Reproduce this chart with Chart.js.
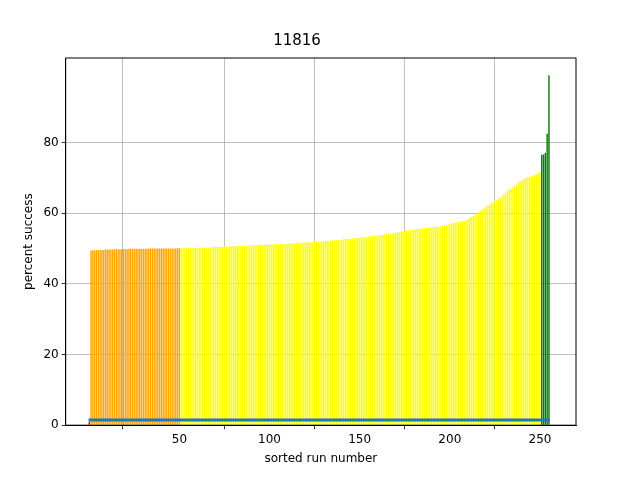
<!DOCTYPE html>
<html>
<head>
<script src="https://cdn.jsdelivr.net/npm/chart.js@4"></script>
<style>body{margin:0;background:#fff}#c{width:640px;height:480px}</style>
</head>
<body>
<div id="c"><canvas id="chart" width="640" height="480"></canvas></div>
<script>
// sorted run success percentages, grouped by bar colour
const redValues = [1.0];
const orangeValues = [
  49.4,49.5,49.5,49.5,49.6,49.6,49.6,49.6,49.7,49.7,
  49.7,49.7,49.7,49.8,49.8,49.8,49.8,49.8,49.8,49.8,
  49.8,49.9,49.9,49.9,49.9,49.9,49.9,49.9,49.9,49.9,
  49.9,49.9,50.0,50.0,50.0,50.0,50.0,50.0,50.0,50.0,
  50.0,50.0,50.0,50.0,50.0,50.0,50.0,50.0,50.1,50.1
];
const yellowValues = [
  50.1,50.1,50.1,50.1,50.1,50.2,50.2,50.2,50.2,50.2,
  50.2,50.2,50.2,50.3,50.3,50.3,50.3,50.3,50.4,50.4,
  50.4,50.4,50.5,50.5,50.5,50.5,50.5,50.6,50.6,50.6,
  50.6,50.7,50.7,50.7,50.7,50.8,50.8,50.8,50.8,50.9,
  50.9,50.9,50.9,51.0,51.0,51.0,51.0,51.0,51.1,51.1,
  51.1,51.1,51.2,51.2,51.2,51.2,51.3,51.3,51.3,51.4,
  51.4,51.4,51.5,51.5,51.5,51.6,51.6,51.6,51.7,51.7,
  51.7,51.8,51.8,51.8,51.9,51.9,52.0,52.0,52.0,52.1,
  52.1,52.2,52.2,52.2,52.3,52.3,52.4,52.4,52.5,52.5,
  52.6,52.6,52.7,52.7,52.8,52.8,52.9,52.9,53.0,53.0,
  53.1,53.1,53.2,53.3,53.3,53.4,53.5,53.5,53.6,53.7,
  53.7,53.8,53.9,54.0,54.0,54.1,54.2,54.3,54.4,54.5,
  54.6,54.7,54.8,54.9,55.0,55.0,55.1,55.2,55.3,55.4,
  55.4,55.5,55.5,55.6,55.7,55.7,55.8,55.8,55.9,56.0,
  56.0,56.1,56.1,56.2,56.3,56.4,56.5,56.6,56.8,57.0,
  57.1,57.2,57.3,57.4,57.5,57.6,57.7,57.8,58.0,58.3,
  58.6,58.9,59.2,59.5,59.8,60.2,60.6,61.0,61.4,61.8,
  62.1,62.4,62.7,63.0,63.3,63.6,64.0,64.4,64.8,65.3,
  65.8,66.3,66.7,67.0,67.3,67.6,68.0,68.5,69.0,69.3,
  69.6,69.8,70.0,70.2,70.4,70.6,70.8,71.0,71.3,71.6
];
const greenValues = [76.5,76.6,77.0,82.5,99.0];
const baselineY = [1.5, 1.5];
const baselineX = [-0.4, 255.4];
const xStep = 50;
const yStep = 20;

const groups = [
  [redValues, 'red'],
  [orangeValues, 'orange'],
  [yellowValues, 'yellow'],
  [greenValues, 'green']
];
const bars = [];
const barColors = [];
groups.forEach(([vals, col]) => {
  vals.forEach(v => {
    bars.push({ x: bars.length, y: v });
    barColors.push(col);
  });
});

const font = { family: 'DejaVu Sans', size: 12 };
// only show ticks / grid on round multiples of the step
function onStep(v, step) { return Math.abs(v / step - Math.round(v / step)) < 1e-6; }
function gridFor(step) {
  return {
    color: ctx => (ctx.tick && onStep(ctx.tick.value, step)) ? '#b0b0b0' : 'rgba(0,0,0,0)',
    tickColor: ctx => (ctx.tick && onStep(ctx.tick.value, step)) ? '#000' : 'rgba(0,0,0,0)',
    lineWidth: 0.8, tickLength: 4
  };
}

new Chart(document.getElementById('chart'), {
  data: {
    datasets: [
      {
        type: 'line',
        data: baselineX.map((x, i) => ({ x: x, y: baselineY[i] })),
        borderColor: '#1f77b4',
        borderWidth: 3,
        pointRadius: 0,
        order: 0
      },
      {
        type: 'bar',
        data: bars,
        backgroundColor: barColors,
        barPercentage: 0.8,
        categoryPercentage: 1.0,
        order: 1
      }
    ]
  },
  options: {
    responsive: false,
    animation: false,
    layout: { padding: { left: 18, right: 64, top: 8, bottom: 10 } },
    plugins: {
      legend: { display: false },
      tooltip: { enabled: false },
      title: { display: true, text: '11816', color: '#000', font: { family: 'DejaVu Sans', size: 15, weight: 'normal' }, padding: { top: 24, bottom: 8 } }
    },
    scales: {
      x: {
        type: 'linear', min: -13.1, max: 270, offset: false,
        ticks: { color: '#000', font: font, maxRotation: 0, autoSkip: false, stepSize: xStep,
          callback: v => onStep(v, xStep) ? String(v) : '' },
        grid: gridFor(xStep),
        border: { color: '#000', width: 1 },
        title: { display: true, text: 'sorted run number', color: '#000', font: font, padding: { top: 2 } }
      },
      y: {
        min: 0, max: 103.9,
        ticks: { color: '#000', font: font, stepSize: yStep,
          callback: v => onStep(v, yStep) ? String(v) : '' },
        grid: gridFor(yStep),
        border: { color: '#000', width: 1 },
        title: { display: true, text: 'percent success', color: '#000', font: font }
      }
    }
  },
  plugins: [{
    id: 'frame',
    afterDraw(chart) {
      const a = chart.chartArea, ctx = chart.ctx;
      ctx.save();
      ctx.strokeStyle = '#000';
      ctx.lineWidth = 1;
      ctx.strokeRect(a.left, a.top, a.right - a.left, a.bottom - a.top);
      ctx.restore();
    }
  }]
});
</script>
</body>
</html>
